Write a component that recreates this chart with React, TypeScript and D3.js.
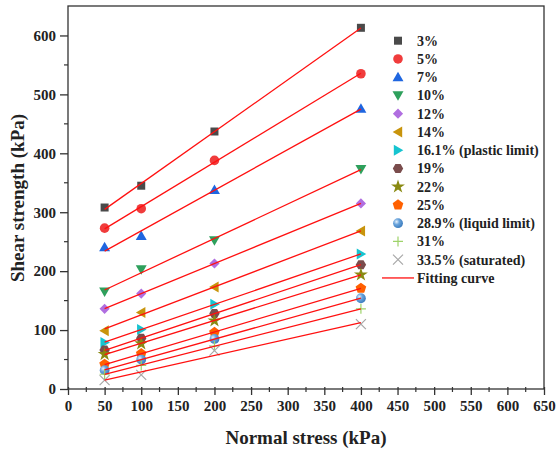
import React, { useRef, useEffect } from 'react';
import * as d3 from 'd3';

// normal stress levels (kPa)
const stresses = [50, 100, 200, 400];

// moisture content labels
const labels = [
  '3%', '5%', '7%', '10%', '12%', '14%', '16.1% (plastic limit)', '19%', '22%', '25%',
  '28.9% (liquid limit)', '31%', '33.5% (saturated)',
];

// shear strength (kPa) per moisture content, at 50/100/200/400 kPa
const s3 = [308, 345, 437, 613];
const s5 = [273, 306, 388, 535];
const s7 = [241, 260, 338, 476];
const s10 = [165, 203, 252, 373];
const s12 = [136, 162, 213, 315];
const s14 = [99, 130, 173, 268];
const s16 = [79, 101, 144, 229];
const s19 = [66, 86, 128, 211];
const s22 = [59, 77, 116, 194];
const s25 = [42, 60, 96, 171];
const s29 = [32, 50, 85, 154];
const s31 = [25, 40, 73, 136];
const s33 = [15, 24, 65, 110];
const series = [s3, s5, s7, s10, s12, s14, s16, s19, s22, s25, s29, s31, s33];

const colors = [
  '#4a4a4a', '#f03c3c', '#1f66e0', '#2ea05c', '#b06ee0', '#c8940c', '#16c4d0',
  '#7a4c4c', '#8a8a12', '#ff6000', '#5b9bd5', '#9ed36a', '#a8a8a8',
];
const shapes = ['square', 'circle', 'up', 'down', 'diamond', 'left', 'right', 'hex', 'star', 'pent', 'ball', 'plus', 'cross'];

const xTicks = d3.range(0, 651, 50);
const yTicks = [0, 100, 200, 300, 400, 500, 600];

function polygon(n: number, r: number, rot: number) {
  const pts = d3.range(n).map(i => {
    const a = rot + (i * 2 * Math.PI) / n;
    return [r * Math.cos(a), r * Math.sin(a)] as [number, number];
  });
  return d3.line()(pts) + 'Z';
}

function drawMarker(g: any, shape: string, color: string, x: number, y: number) {
  const t = `translate(${x},${y})`;
  const tri = d3.symbol(d3.symbolTriangle, 52)();
  if (shape === 'square') g.append('path').attr('d', d3.symbol(d3.symbolSquare, 64)()).attr('transform', t).attr('fill', color);
  else if (shape === 'circle') g.append('circle').attr('cx', x).attr('cy', y).attr('r', 4.8).attr('fill', color);
  else if (shape === 'up') g.append('path').attr('d', tri).attr('transform', t + ' translate(0,1)').attr('fill', color);
  else if (shape === 'down') g.append('path').attr('d', tri).attr('transform', t + ' rotate(180) translate(0,1)').attr('fill', color);
  else if (shape === 'diamond') g.append('path').attr('d', d3.symbol(d3.symbolSquare, 52)()).attr('transform', t + ' rotate(45)').attr('fill', color);
  else if (shape === 'left') g.append('path').attr('d', tri).attr('transform', t + ' rotate(-90) translate(0,1)').attr('fill', color);
  else if (shape === 'right') g.append('path').attr('d', tri).attr('transform', t + ' rotate(90) translate(0,1)').attr('fill', color);
  else if (shape === 'hex') g.append('path').attr('d', polygon(6, 5.2, 0)).attr('transform', t).attr('fill', color);
  else if (shape === 'star') g.append('path').attr('d', d3.symbol(d3.symbolStar, 60)()).attr('transform', t).attr('fill', color);
  else if (shape === 'pent') g.append('path').attr('d', polygon(5, 5.6, -Math.PI / 2)).attr('transform', t).attr('fill', color);
  else if (shape === 'ball') g.append('circle').attr('cx', x).attr('cy', y).attr('r', 4.9).attr('fill', 'url(#ballGrad)');
  else if (shape === 'plus') {
    g.append('path').attr('d', `M${x - 5},${y}H${x + 5}M${x},${y - 5}V${y + 5}`).attr('stroke', color).attr('stroke-width', 1.2);
  } else if (shape === 'cross') {
    g.append('path').attr('d', `M${x - 5},${y - 5}L${x + 5},${y + 5}M${x - 5},${y + 5}L${x + 5},${y - 5}`).attr('stroke', color).attr('stroke-width', 1.2);
  }
}

function fit(ys: number[]) {
  const mx = d3.mean(stresses) as number;
  const my = d3.mean(ys) as number;
  const num = d3.sum(stresses, (x, i) => (x - mx) * (ys[i] - my));
  const den = d3.sum(stresses, x => (x - mx) * (x - mx));
  const b = num / den;
  return { a: my - b * mx, b };
}

export default function App() {
  const svgRef = useRef<SVGSVGElement>(null);

  useEffect(() => {
    const W = 558, H = 454;
    const svg = d3.select(svgRef.current).attr('width', W).attr('height', H);
    svg.selectAll('*').remove();
    const font = '"Liberation Serif", "Times New Roman", serif';

    const defs = svg.append('defs');
    const grad = defs.append('radialGradient').attr('id', 'ballGrad').attr('cx', '35%').attr('cy', '35%').attr('r', '65%');
    grad.append('stop').attr('offset', '0%').attr('stop-color', '#e8f2fc');
    grad.append('stop').attr('offset', '45%').attr('stop-color', '#6aa4dc');
    grad.append('stop').attr('offset', '100%').attr('stop-color', '#3f7fc0');

    const x = d3.scaleLinear().domain([0, 650]).range([68, 544]);
    const y = d3.scaleLinear().domain([0, 650]).range([389, 6]);

    // frame
    svg.append('rect').attr('x', 68).attr('y', 6).attr('width', 476).attr('height', 383)
      .attr('fill', 'none').attr('stroke', '#333').attr('stroke-width', 1.3);

    // x axis
    const xa = svg.append('g').attr('transform', 'translate(0,389)')
      .call(d3.axisBottom(x).tickValues(xTicks).tickSize(6).tickFormat(d3.format('d')));
    xa.select('.domain').remove();
    xa.selectAll('line').attr('stroke', '#333').attr('stroke-width', 1.3).attr('y1', -2);
    xa.selectAll('text').attr('font-family', font).attr('font-weight', 'bold').attr('font-size', 15).attr('fill', '#222').attr('y', 11);
    svg.append('g').selectAll('line').data(d3.range(25, 650, 50)).join('line')
      .attr('x1', d => x(d)).attr('x2', d => x(d)).attr('y1', 387).attr('y2', 392)
      .attr('stroke', '#333').attr('stroke-width', 1.2);

    // y axis
    const ya = svg.append('g').attr('transform', 'translate(68,0)')
      .call(d3.axisLeft(y).tickValues(yTicks).tickSize(8).tickFormat(d3.format('d')));
    ya.select('.domain').remove();
    ya.selectAll('line').attr('stroke', '#333').attr('stroke-width', 1.3);
    ya.selectAll('text').attr('font-family', font).attr('font-weight', 'bold').attr('font-size', 15).attr('fill', '#222').attr('x', -12);
    svg.append('g').selectAll('line').data([50, 150, 250, 350, 450, 550]).join('line')
      .attr('x1', 64).attr('x2', 68).attr('y1', d => y(d)).attr('y2', d => y(d))
      .attr('stroke', '#333').attr('stroke-width', 1.2);

    // titles
    svg.append('text').attr('x', 306).attr('y', 444).attr('text-anchor', 'middle')
      .attr('font-family', font).attr('font-weight', 'bold').attr('font-size', 19).attr('fill', '#222')
      .text('Normal stress (kPa)');
    svg.append('text').attr('transform', 'translate(24,198) rotate(-90)').attr('text-anchor', 'middle')
      .attr('font-family', font).attr('font-weight', 'bold').attr('font-size', 19).attr('fill', '#222')
      .text('Shear strength (kPa)');

    // points
    const pts = svg.append('g');
    series.forEach((ys, i) => {
      ys.forEach((v, j) => drawMarker(pts, shapes[i], colors[i], x(stresses[j]), y(v)));
    });

    // fitting lines
    const lines = svg.append('g');
    series.forEach(ys => {
      const { a, b } = fit(ys);
      lines.append('line')
        .attr('x1', x(50)).attr('y1', y(a + b * 50))
        .attr('x2', x(400)).attr('y2', y(a + b * 400))
        .attr('stroke', '#ff1010').attr('stroke-width', 1.3);
    });

    // legend
    const lg = svg.append('g');
    labels.forEach((l, i) => {
      const ly = 40.7 + i * 18.25;
      drawMarker(lg, shapes[i], colors[i], 398, ly);
      lg.append('text').attr('x', 417).attr('y', ly + 5).attr('font-family', font)
        .attr('font-weight', 'bold').attr('font-size', 14).attr('fill', '#222').text(l);
    });
    const fy = 40.7 + 13 * 18.25;
    lg.append('line').attr('x1', 382).attr('x2', 414).attr('y1', fy).attr('y2', fy)
      .attr('stroke', '#ff1010').attr('stroke-width', 1.3);
    lg.append('text').attr('x', 417).attr('y', fy + 5).attr('font-family', font)
      .attr('font-weight', 'bold').attr('font-size', 14).attr('fill', '#222').text('Fitting curve');
  }, []);

  return <svg ref={svgRef} style={{ position: 'absolute', left: 0, top: 0, display: 'block' }} />;
}
